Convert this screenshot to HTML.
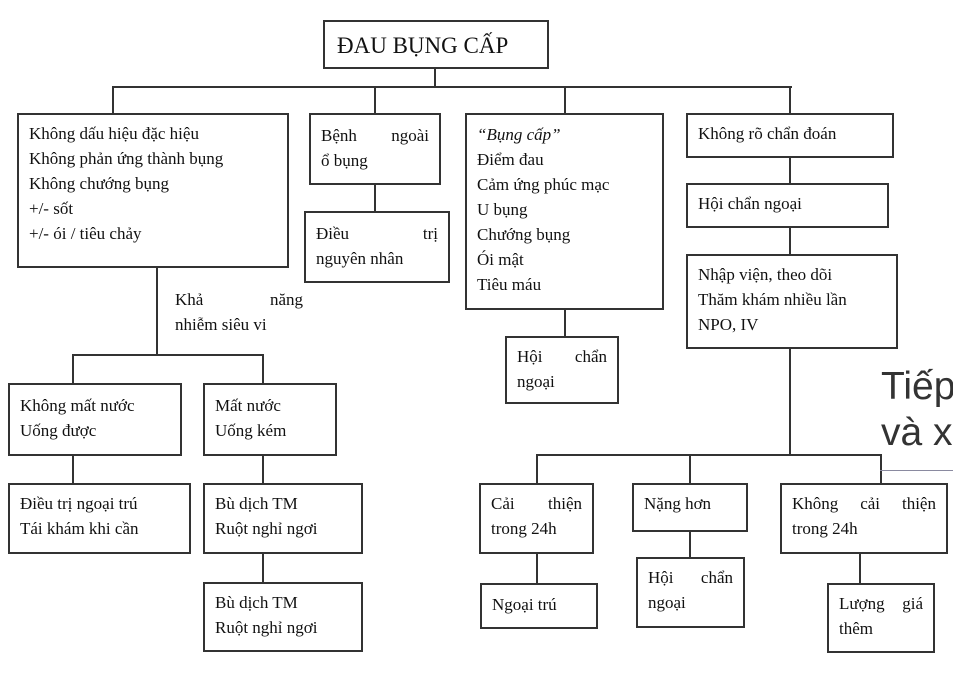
<!DOCTYPE html><html><head><meta charset="utf-8"><style>
body{margin:0;width:953px;height:673px;background:#fff;position:relative;overflow:hidden;font-family:"Liberation Serif",serif;color:#111}
.b{position:absolute;border:2px solid #333;box-sizing:border-box;font-size:17px;line-height:25px;padding:4px 0 0 10px}
.h{position:absolute;height:2px;background:#333}
.v{position:absolute;width:2px;background:#333}
.j{display:flex;justify-content:space-between;padding-right:10px}
.t{position:absolute;font-size:17px;line-height:25px}
</style></head><body>
<div class="b" style="left:323px;top:20px;width:226px;height:49px;font-size:23px;padding:11px 0 0 12px">ĐAU BỤNG CẤP</div>
<div class="v" style="left:434px;top:68px;height:20px"></div>
<div class="h" style="left:112px;top:86px;width:680px"></div>
<div class="v" style="left:112px;top:86px;height:28px"></div>
<div class="v" style="left:374px;top:86px;height:28px"></div>
<div class="v" style="left:564px;top:86px;height:28px"></div>
<div class="v" style="left:789px;top:86px;height:28px"></div>

<div class="b" style="left:17px;top:113px;width:272px;height:155px;padding-top:6px">Không dấu hiệu đặc hiệu<br>Không phản ứng thành bụng<br>Không chướng bụng<br>+/- sốt<br>+/- ói / tiêu chảy</div>
<div class="b" style="left:309px;top:113px;width:132px;height:72px;padding-top:8px"><div class="j"><span>Bệnh</span><span>ngoài</span></div>ổ bụng</div>
<div class="v" style="left:374px;top:184px;height:28px"></div>
<div class="b" style="left:304px;top:211px;width:146px;height:72px;padding-top:8px"><div class="j"><span>Điều</span><span>trị</span></div>nguyên nhân</div>
<div class="b" style="left:465px;top:113px;width:199px;height:197px;padding-top:7px"><i>“Bụng cấp”</i><br>Điểm đau<br>Cảm ứng phúc mạc<br>U bụng<br>Chướng bụng<br>Ói mật<br>Tiêu máu</div>
<div class="v" style="left:564px;top:309px;height:28px"></div>
<div class="b" style="left:505px;top:336px;width:114px;height:68px;padding-top:6px"><div class="j"><span>Hội</span><span>chẩn</span></div>ngoại</div>
<div class="b" style="left:686px;top:113px;width:208px;height:45px;padding-top:6px">Không rõ chẩn đoán</div>
<div class="v" style="left:789px;top:157px;height:27px"></div>
<div class="b" style="left:686px;top:183px;width:203px;height:45px;padding-top:6px">Hội chẩn ngoại</div>
<div class="v" style="left:789px;top:227px;height:28px"></div>
<div class="b" style="left:686px;top:254px;width:212px;height:95px;padding-top:6px">Nhập viện, theo dõi<br>Thăm khám nhiều lần<br>NPO, IV</div>
<div class="v" style="left:789px;top:348px;height:108px"></div>
<div class="h" style="left:536px;top:454px;width:346px"></div>
<div class="v" style="left:536px;top:454px;height:30px"></div>
<div class="v" style="left:689px;top:454px;height:30px"></div>
<div class="v" style="left:880px;top:454px;height:30px"></div>
<div class="b" style="left:479px;top:483px;width:115px;height:71px;padding-top:6px"><div class="j"><span>Cải</span><span>thiện</span></div>trong 24h</div>
<div class="b" style="left:632px;top:483px;width:116px;height:49px;padding-top:6px">Nặng hơn</div>
<div class="b" style="left:780px;top:483px;width:168px;height:71px;padding-top:6px"><div class="j"><span>Không</span><span>cải</span><span>thiện</span></div>trong 24h</div>
<div class="v" style="left:536px;top:553px;height:31px"></div>
<div class="v" style="left:689px;top:531px;height:27px"></div>
<div class="v" style="left:859px;top:553px;height:31px"></div>
<div class="b" style="left:480px;top:583px;width:118px;height:46px;padding-top:7px">Ngoại trú</div>
<div class="b" style="left:636px;top:557px;width:109px;height:71px;padding-top:6px"><div class="j"><span>Hội</span><span>chẩn</span></div>ngoại</div>
<div class="b" style="left:827px;top:583px;width:108px;height:70px;padding-top:6px"><div class="j"><span>Lượng</span><span>giá</span></div>thêm</div>

<div class="v" style="left:156px;top:267px;height:89px"></div>
<div class="t" style="left:175px;top:287px;width:128px"><div style="display:flex;justify-content:space-between"><span>Khả</span><span>năng</span></div>nhiễm siêu vi</div>
<div class="h" style="left:72px;top:354px;width:192px"></div>
<div class="v" style="left:72px;top:354px;height:30px"></div>
<div class="v" style="left:262px;top:354px;height:30px"></div>
<div class="b" style="left:8px;top:383px;width:174px;height:73px;padding-top:8px">Không mất nước<br>Uống được</div>
<div class="b" style="left:203px;top:383px;width:134px;height:73px;padding-top:8px">Mất nước<br>Uống kém</div>
<div class="v" style="left:72px;top:455px;height:29px"></div>
<div class="v" style="left:262px;top:455px;height:29px"></div>
<div class="b" style="left:8px;top:483px;width:183px;height:71px;padding-top:6px">Điều trị ngoại trú<br>Tái khám khi cần</div>
<div class="b" style="left:203px;top:483px;width:160px;height:71px;padding-top:6px">Bù dịch TM<br>Ruột nghỉ ngơi</div>
<div class="v" style="left:262px;top:553px;height:30px"></div>
<div class="b" style="left:203px;top:582px;width:160px;height:70px;padding-top:6px">Bù dịch TM<br>Ruột nghỉ ngơi</div>

<div style="position:absolute;left:881px;top:364px;font-family:'Liberation Sans',sans-serif;font-size:39px;line-height:46px;color:#333;white-space:nowrap">Tiếp<br>và x</div>
<div style="position:absolute;left:880px;top:470px;width:73px;height:1px;background:#8a8aa0"></div>
</body></html>
